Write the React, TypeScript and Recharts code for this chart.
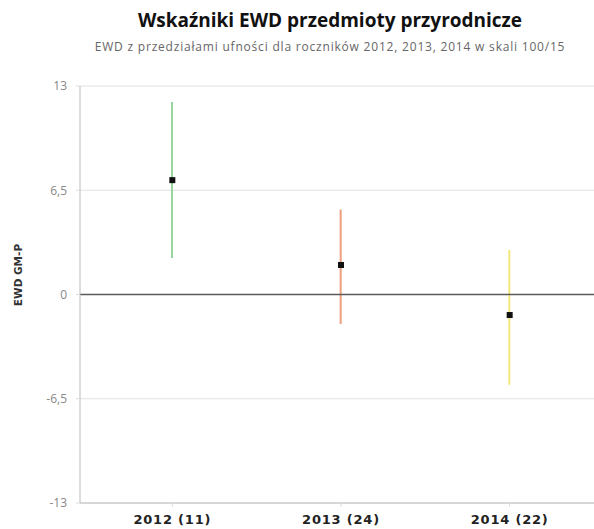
import {
  Bar,
  CartesianGrid,
  Cell,
  ComposedChart,
  ReferenceLine,
  Scatter,
  XAxis,
  YAxis,
} from "recharts";

const years = ["2012 (11)", "2013 (24)", "2014 (22)"];
const ewd = [7.13, 1.84, -1.28];
const lower = [2.27, -1.84, -5.63];
const upper = [12.0, 5.3, 2.77];
const barColors = ["#98d69f", "#eb9f7c", "#f3e67c"];
const yTicks = [-13, -6.5, 0, 6.5, 13];

const data = years.map((name, i) => ({
  name,
  ewd: ewd[i],
  range: [lower[i], upper[i]],
}));

const fmt = (v: number) => String(v).replace(".", ",");

const SquareDot = (props: any) => {
  const { cx, cy } = props;
  return <rect x={cx - 3} y={cy - 3} width={6} height={6} fill="#111" />;
};

export default function App() {
  return (
    <div style={{ position: "relative", width: 594, height: 529 }}>
      <style>{"body{margin:0}"}</style>
      <div
        style={{
          position: "absolute",
          left: 0,
          width: 660,
          top: 7,
          textAlign: "center",
          fontFamily: "'Open Sans', sans-serif",
          fontWeight: 700,
          fontSize: 19,
          color: "#111",
        }}
      >
        Wskaźniki EWD przedmioty przyrodnicze
      </div>
      <div
        style={{
          position: "absolute",
          left: 0,
          width: 660,
          top: 38,
          textAlign: "center",
          fontFamily: "'Open Sans', sans-serif",
          fontSize: 12,
          letterSpacing: 0.8,
          color: "#666",
        }}
      >
        EWD z przedziałami ufności dla roczników 2012, 2013, 2014 w skali 100/15
      </div>
      <div
        style={{
          position: "absolute",
          left: 18,
          top: 275,
          transform: "translate(-50%, -50%) rotate(-90deg)",
          whiteSpace: "nowrap",
          fontFamily: "'DejaVu Sans', sans-serif",
          fontWeight: 700,
          fontSize: 10.5,
          color: "#333",
        }}
      >
        EWD GM-P
      </div>
      <ComposedChart
        width={594}
        height={529}
        data={data}
        margin={{ top: 86, right: 0, bottom: 0, left: 0 }}
      >
        <CartesianGrid vertical={false} stroke="#e2e2e2" />
        <XAxis
          dataKey="name"
          height={26}
          padding={{ left: 8, right: 0 }}
          axisLine={{ stroke: "#bbb" }}
          tickLine={{ stroke: "#ddd" }}
          tickSize={4}
          tickMargin={8}
          tick={{
            fontFamily: "'DejaVu Sans', sans-serif",
            fontWeight: 700,
            fontSize: 13,
            fill: "#222",
            letterSpacing: 0.8,
          }}
        />
        <YAxis
          width={80}
          domain={[-13, 13]}
          ticks={yTicks}
          tickFormatter={fmt}
          axisLine={{ stroke: "#bbb" }}
          tickLine={{ stroke: "#ddd" }}
          tickSize={4}
          tickMargin={9}
          tick={{
            fontFamily: "'Open Sans', sans-serif",
            fontSize: 12,
            fill: "#888",
          }}
        />
        <ReferenceLine y={0} stroke="#5a5a5a" strokeWidth={1.5} />
        <Bar dataKey="range" barSize={2} isAnimationActive={false}>
          {data.map((d, i) => (
            <Cell key={d.name} fill={barColors[i]} />
          ))}
        </Bar>
        <Scatter dataKey="ewd" shape={<SquareDot />} isAnimationActive={false} />
      </ComposedChart>
    </div>
  );
}
